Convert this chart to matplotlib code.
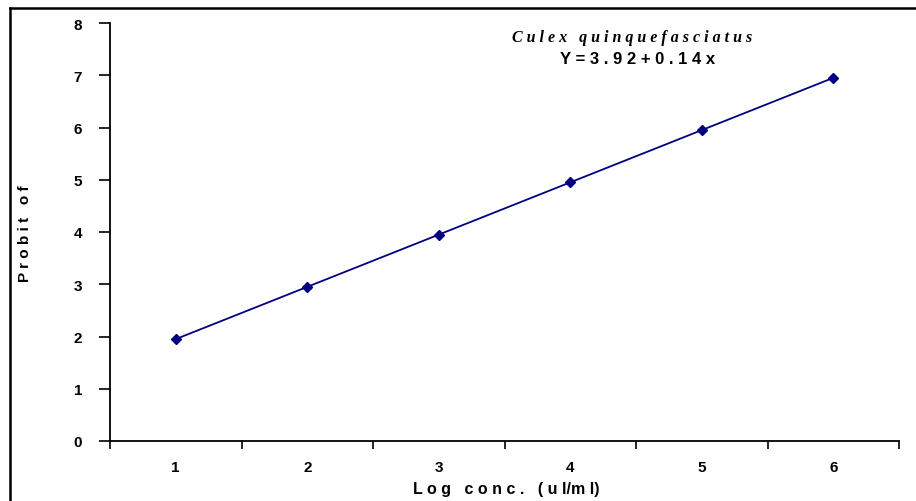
import matplotlib
matplotlib.use("Agg")
import matplotlib.pyplot as plt
from matplotlib.lines import Line2D
import numpy as np

# data
log_conc = [1, 2, 3, 4, 5, 6]
probit = [1.95, 2.95, 3.95, 4.95, 5.95, 6.95]
y_ticks = [0, 1, 2, 3, 4, 5, 6, 7, 8]

W, H = 916, 502
fig = plt.figure(figsize=(W / 100, H / 100), dpi=100)
plt.rcParams['font.family'] = ['Liberation Sans', 'DejaVu Sans']

ax = fig.add_axes([110 / W, 1 - 442 / H, (899 - 110) / W, (442 - 24) / H])

x = np.arange(len(log_conc))
ax.plot(x, probit, color='#000080', lw=1.3, marker='D', ms=5,
        markerfacecolor='#000080', markeredgecolor='#000080')

ax.set_xlim(-0.5, len(log_conc) - 0.5)
ax.set_ylim(0, 8)

# category axis: ticks between categories, labels centred
ax.set_xticks(np.arange(len(log_conc) + 1) - 0.5)
ax.set_xticklabels([])
ax.set_xticks(x, minor=True)
ax.set_xticklabels([str(v) for v in log_conc], minor=True, fontsize=11, fontweight='bold')
ax.tick_params(axis='x', which='major', direction='out', length=6, width=1.2)
ax.tick_params(axis='x', which='minor', length=0, pad=14)

ax.set_yticks(y_ticks)
ax.set_yticklabels([str(v) for v in y_ticks], fontsize=11, fontweight='bold')
ax.tick_params(axis='y', direction='out', length=8, width=1.2, pad=12)

for s in ['top', 'right']:
    ax.spines[s].set_visible(False)
for s in ['left', 'bottom']:
    ax.spines[s].set_linewidth(1.3)

fig.text(506 / W, 1 - 490 / H, 'L o g   c o n c .   ( u l/m l)', ha='center', va='center',
         fontsize=11.5, fontweight='bold')
fig.text(25 / W, 1 - 234 / H, 'P r o b i t   o f', ha='center', va='center',
         rotation=90, fontsize=11, fontweight='bold')

fig.text(632 / W, 1 - 38 / H, 'C u l e x   q u i n q u e f a s c i a t u s', ha='center', va='center',
         fontsize=11.5, fontstyle='italic', fontweight='bold', family=['Liberation Serif', 'DejaVu Serif'])
fig.text(638 / W, 1 - 60 / H, 'Y = 3 . 9 2 + 0 . 1 4 x', ha='center', va='center',
         fontsize=12, fontweight='bold')

# outer chart frame (clipped at right and bottom)
fig.add_artist(Line2D([10 / W, 10 / W], [0, 1 - 9 / H], color='black', lw=1.8, transform=fig.transFigure))
fig.add_artist(Line2D([10 / W, 1], [1 - 9 / H, 1 - 9 / H], color='black', lw=1.8, transform=fig.transFigure))

fig.savefig('out.png', dpi=100)
